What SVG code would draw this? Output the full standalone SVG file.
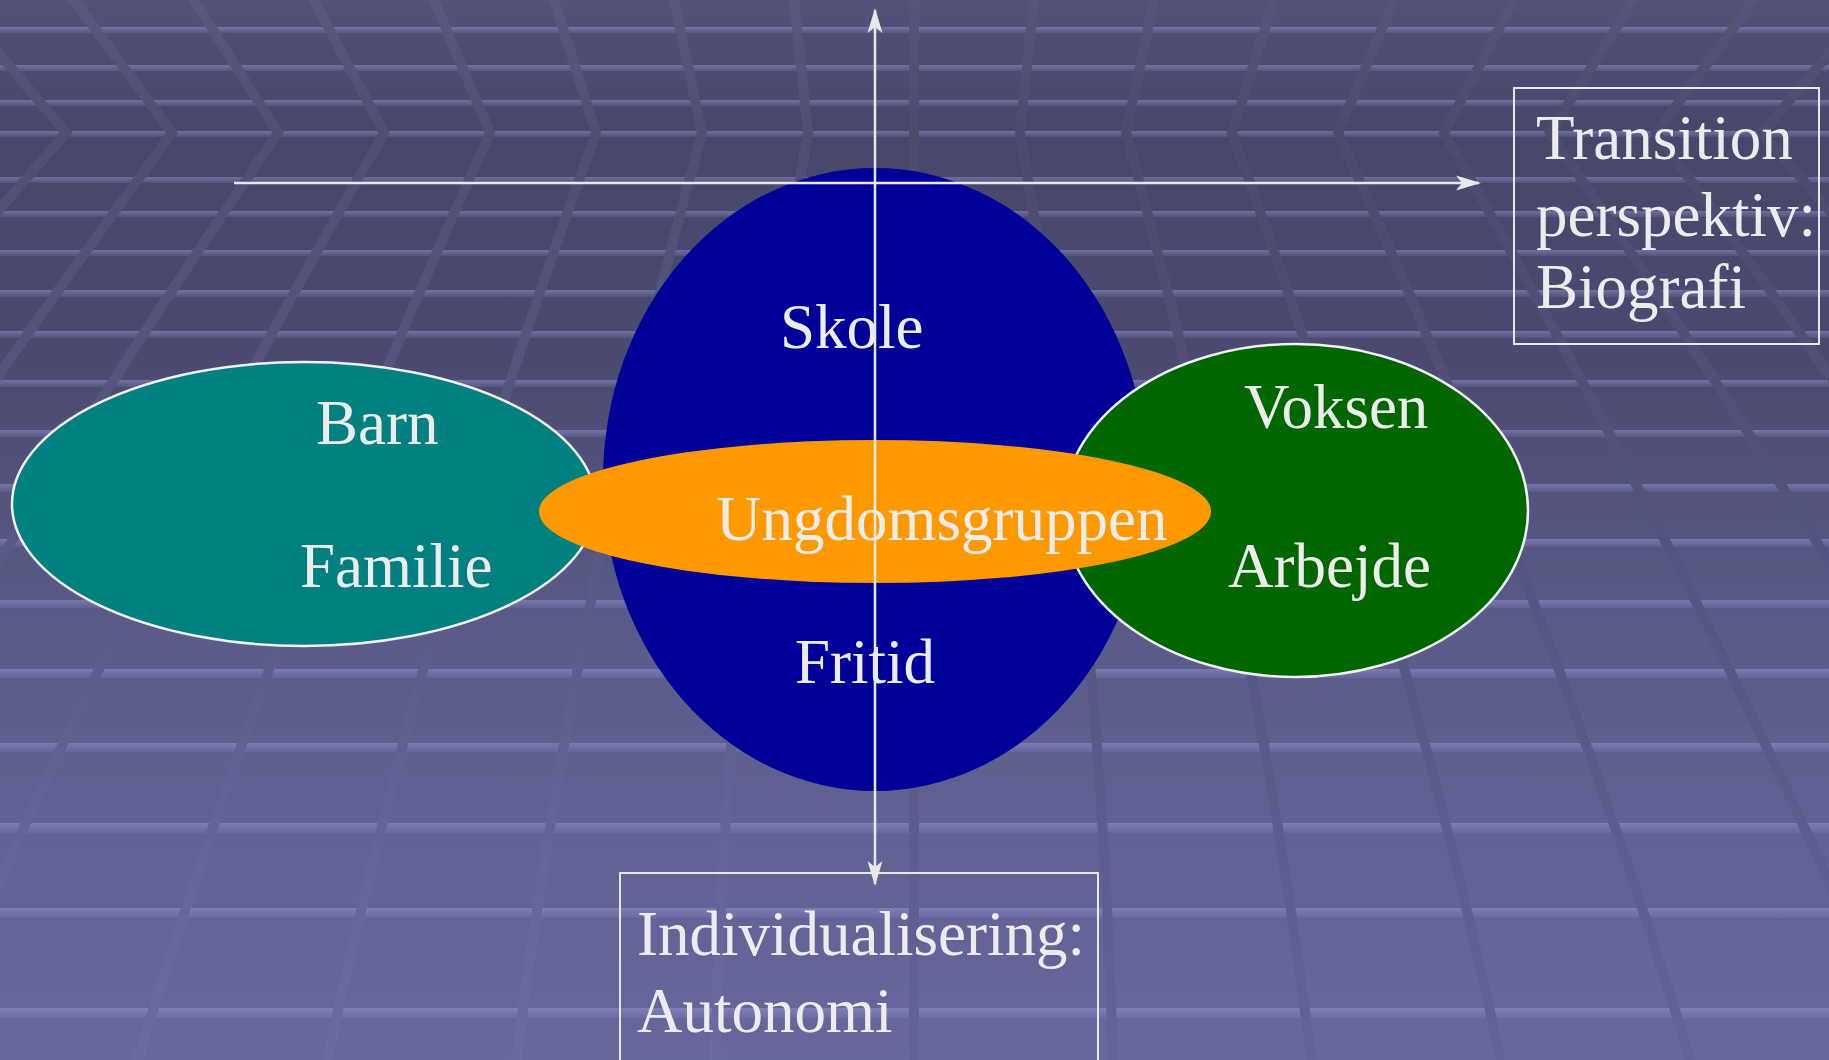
<svg xmlns="http://www.w3.org/2000/svg" width="1829" height="1060" viewBox="0 0 1829 1060">
  <defs>
    <style>
      .lbl { font-family: "Liberation Serif", "Times New Roman", serif; font-size: 63px; fill: #ececec; }
      .axis { fill: none; stroke: #e8e8e8; stroke-width: 2.5; }
      .box { fill: none; stroke: #e8e8e8; stroke-width: 2; }
      .ring { stroke: #f0f0f0; stroke-width: 2.5; }
      .dl { fill: none; stroke-width: 10; }
      .dlL { stroke: url(#lgL); }
      .dlR { stroke: url(#lgR); }
      .stripe { fill: url(#st); }
    </style>
    <linearGradient id="bg" gradientUnits="userSpaceOnUse" x1="0" y1="0" x2="0" y2="1060">
      <stop offset="0" stop-color="#52527a"/>
      <stop offset="0.13" stop-color="#47476b"/>
      <stop offset="0.35" stop-color="#4b4b72"/>
      <stop offset="0.6" stop-color="#5b5b8a"/>
      <stop offset="1" stop-color="#67679d"/>
    </linearGradient>
    <linearGradient id="lgL" gradientUnits="userSpaceOnUse" x1="0" y1="0" x2="0" y2="1060">
      <stop offset="0" stop-color="#59597f"/>
      <stop offset="0.13" stop-color="#505076"/>
      <stop offset="0.5" stop-color="#585886"/>
      <stop offset="1" stop-color="#6b6ba1"/>
    </linearGradient>
    <linearGradient id="lgR" gradientUnits="userSpaceOnUse" x1="0" y1="0" x2="0" y2="1060">
      <stop offset="0" stop-color="#56567c"/>
      <stop offset="0.13" stop-color="#4c4c70"/>
      <stop offset="0.5" stop-color="#535380"/>
      <stop offset="1" stop-color="#626297"/>
    </linearGradient>
    <linearGradient id="st" x1="0" y1="0" x2="0" y2="1">
      <stop offset="0" stop-color="#a0a0e0" stop-opacity="0.45"/>
      <stop offset="1" stop-color="#a0a0e0" stop-opacity="0.12"/>
    </linearGradient>
    <marker id="arr" viewBox="-26 -8 28 16" markerWidth="28" markerHeight="16" refX="-2" refY="0" orient="auto-start-reverse" markerUnits="userSpaceOnUse">
      <path d="M0,0 L-25,-7.5 L-19,0 L-25,7.5 Z" fill="#e8e8e8"/>
    </marker>
  </defs>

  <g id="background">
    <rect x="0" y="0" width="1829" height="1060" fill="url(#bg)"/>
    <g id="stripes">
      <rect class="stripe" x="0" y="27" width="1829" height="6"/>
      <rect class="stripe" x="0" y="65" width="1829" height="6"/>
      <rect class="stripe" x="0" y="100" width="1829" height="6"/>
      <rect class="stripe" x="0" y="131" width="1829" height="6"/>
      <rect class="stripe" x="0" y="177" width="1829" height="6"/>
      <rect class="stripe" x="0" y="211" width="1829" height="6"/>
      <rect class="stripe" x="0" y="250" width="1829" height="6"/>
      <rect class="stripe" x="0" y="290" width="1829" height="7"/>
      <rect class="stripe" x="0" y="331" width="1829" height="7"/>
      <rect class="stripe" x="0" y="380" width="1829" height="7"/>
      <rect class="stripe" x="0" y="430" width="1829" height="7"/>
      <rect class="stripe" x="0" y="484" width="1829" height="8"/>
      <rect class="stripe" x="0" y="539" width="1829" height="8"/>
      <rect class="stripe" x="0" y="600" width="1829" height="8"/>
      <rect class="stripe" x="0" y="669" width="1829" height="9"/>
      <rect class="stripe" x="0" y="743" width="1829" height="9"/>
      <rect class="stripe" x="0" y="823" width="1829" height="10"/>
      <rect class="stripe" x="0" y="908" width="1829" height="10"/>
      <rect class="stripe" x="0" y="1008" width="1829" height="10"/>
    </g>
    <g id="perspective-lines">
      <path class="dl dlR" d="M914,-20 L914,1080"/>
      <path class="dl dlL" d="M791.9,-20 L808,133 Q726.7,596.5 715.3,1060"/>
      <path class="dl dlL" d="M669.8,-20 L702,133 Q574.3,596.5 516.6,1060"/>
      <path class="dl dlL" d="M547.7,-20 L596,133 Q426.6,596.5 327.2,1060"/>
      <path class="dl dlL" d="M425.6,-20 L490,133 Q278.8,596.5 137.7,1060"/>
      <path class="dl dlL" d="M303.5,-20 L384,133 Q117.2,596.5 -79.5,1060"/>
      <path class="dl dlL" d="M181.4,-20 L278,133 Q-39.7,596.5 -287.5,1060"/>
      <path class="dl dlL" d="M59.3,-20 L172,133 Q-168.9,596.5 -439.8,1060"/>
      <path class="dl dlL" d="M-62.8,-20 L66,133 Q-339.8,596.5 -675.6,1060"/>
      <path class="dl dlR" d="M1036.1,-20 L1020,133 Q1101.3,596.5 1112.7,1060"/>
      <path class="dl dlR" d="M1158.2,-20 L1126,133 Q1253.7,596.5 1311.4,1060"/>
      <path class="dl dlR" d="M1280.3,-20 L1232,133 Q1401.4,596.5 1500.8,1060"/>
      <path class="dl dlR" d="M1402.4,-20 L1338,133 Q1549.2,596.5 1690.3,1060"/>
      <path class="dl dlR" d="M1524.5,-20 L1444,133 Q1710.8,596.5 1907.5,1060"/>
      <path class="dl dlR" d="M1646.6,-20 L1550,133 Q1867.7,596.5 2115.5,1060"/>
      <path class="dl dlR" d="M1768.7,-20 L1656,133 Q1996.9,596.5 2267.8,1060"/>
      <path class="dl dlR" d="M1890.8,-20 L1762,133 Q2167.8,596.5 2503.6,1060"/>
    </g>
  </g>

  <g id="node-skole-fritid">
    <ellipse cx="875" cy="479.5" rx="272" ry="311.5" fill="#000099"/>
    <text class="lbl" x="780" y="348">Skole</text>
    <text class="lbl" x="795" y="683">Fritid</text>
  </g>

  <g id="node-barn-familie">
    <ellipse class="ring" cx="304" cy="504" rx="292" ry="142" fill="#008080"/>
    <text class="lbl" x="316" y="444">Barn</text>
    <text class="lbl" x="300" y="587">Familie</text>
  </g>

  <g id="node-voksen-arbejde">
    <ellipse class="ring" cx="1295.5" cy="510.5" rx="232.5" ry="166.5" fill="#006600"/>
    <text class="lbl" x="1244" y="428">Voksen</text>
    <text class="lbl" x="1228" y="587">Arbejde</text>
  </g>

  <g id="node-ungdomsgruppen">
    <ellipse cx="875" cy="511.5" rx="336" ry="71.5" fill="#ff9900"/>
    <text class="lbl" x="716" y="540">Ungdomsgruppen</text>
  </g>

  <g id="node-transition">
    <rect class="box" x="1514" y="88" width="305" height="256"/>
    <text class="lbl" x="1536" y="159">Transition</text>
    <text class="lbl" x="1536" y="236">perspektiv:</text>
    <text class="lbl" x="1536" y="308">Biografi</text>
  </g>

  <g id="node-individualisering">
    <rect class="box" x="620" y="873" width="478" height="240"/>
    <text class="lbl" x="637" y="955">Individualisering:</text>
    <text class="lbl" x="637" y="1032">Autonomi</text>
  </g>

  <g id="connectors">
    <path class="axis" d="M234,183 L1479,183" marker-end="url(#arr)"/>
    <path class="axis" d="M875,10 L875,884" marker-start="url(#arr)" marker-end="url(#arr)"/>
  </g>
</svg>
